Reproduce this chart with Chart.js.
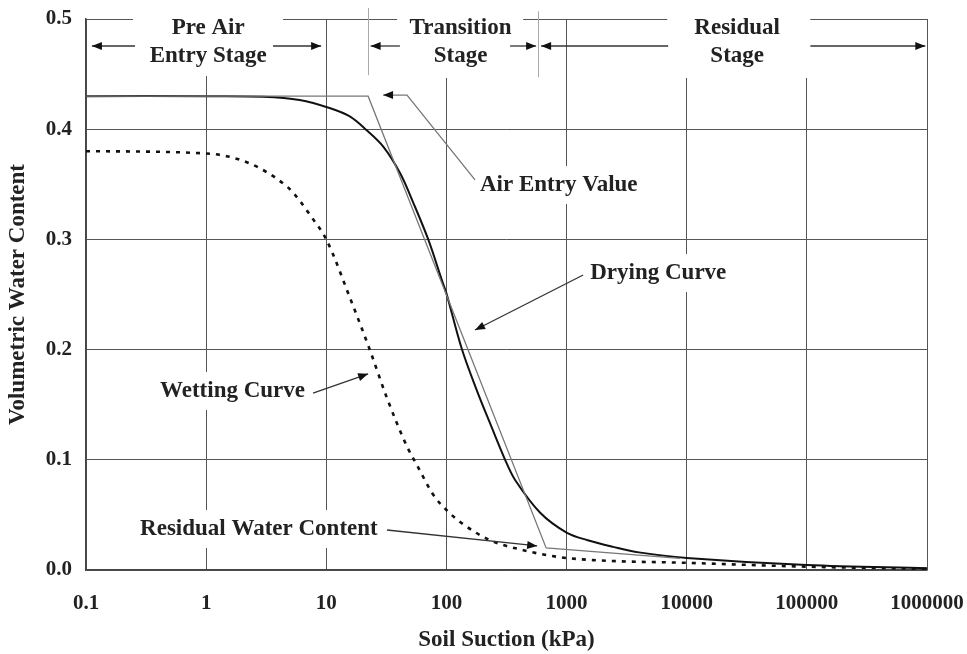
<!DOCTYPE html>
<html>
<head>
<meta charset="utf-8">
<script src="https://cdn.jsdelivr.net/npm/chart.js@4.4.1/dist/chart.umd.min.js"></script>
<style>
  html, body { margin: 0; padding: 0; background: #fff; }
  #wrap { width: 967px; height: 654px; }
</style>
</head>
<body>
<div id="wrap"><canvas id="swcc" width="967" height="654"></canvas></div>
<script>
// ---- data: suction (kPa) vs volumetric water content ----
const dryingSuction = [0.1, 1, 3, 6, 10.8, 15.8, 21.7, 29.9, 41.2, 53.1, 70.8, 91.6, 100, 134, 179, 231, 308, 373, 603, 1000, 1500, 2445, 4000, 10000, 100000, 1000000];
const dryingTheta   = [0.43, 0.43, 0.4295, 0.4265, 0.419, 0.4114, 0.399, 0.384, 0.360, 0.333, 0.2995, 0.263, 0.251, 0.201, 0.163, 0.133, 0.100, 0.0817, 0.052, 0.034, 0.027, 0.021, 0.016, 0.011, 0.0045, 0.0015];

const wettingSuction = [0.1, 1, 4.7, 7.8, 10, 16, 23, 32, 47, 57, 78, 101, 130, 231, 437, 830, 1660, 10000, 100000, 1000000];
const wettingTheta   = [0.38, 0.378, 0.348, 0.318, 0.30, 0.245, 0.20, 0.156, 0.112, 0.095, 0.068, 0.054, 0.0436, 0.027, 0.018, 0.012, 0.009, 0.0065, 0.003, 0.001];

// air entry / residual construction lines
const aevSuction = [0.1, 22.3, 676, 8800];
const aevTheta   = [0.43, 0.43, 0.020, 0.0105];

const xTicks = [0.1, 1, 10, 100, 1000, 10000, 100000, 1000000];
const xTickLabels = ['0.1', '1', '10', '100', '1000', '10000', '100000', '1000000'];
const yTicks = [0, 0.1, 0.2, 0.3, 0.4, 0.5];

const FONT = "'Liberation Serif', 'Times New Roman', serif";
const INK = '#222';
const NOTE_FONT = 'bold 23px ' + FONT;

const toPoints = (xs, ys) => xs.map((v, i) => ({ x: v, y: ys[i] }));

// ---- annotations (in data units) ----
const stages = [
  { lines: ['Pre Air', 'Entry Stage'], at: 1.04, gap: [0.246, 4.37], band: [0.108, 9.2, 0.4483],
    arrows: [[0.256, 0.112], [3.6, 9.06]] },
  { lines: ['Transition', 'Stage'], at: 131, gap: [38.9, 435], band: [24.1, 558, 0.4465],
    arrows: [[41, 23.4], [339, 558]] },
  { lines: ['Residual', 'Stage'], at: 26300, gap: [6880, 106700], band: [1050, 949000, 0.4465],
    arrows: [[7010, 614], [107000, 968000]] }
];
const stageDividers = [[22.3, 0.51, 0.449], [581, 0.507, 0.447]];

const labels = [
  { text: 'Air Entry Value', x: 190, y: 0.3494 },
  { text: 'Drying Curve', x: 1574, y: 0.2695 },
  { text: 'Wetting Curve', x: 0.413, y: 0.1624 },
  { text: 'Residual Water Content', x: 0.2818, y: 0.0372 }
];
const leaders = [
  { pts: [[173, 0.354], [47, 0.431], [29.7, 0.431]], color: '#777' },
  { pts: [[1374, 0.2677], [173, 0.2178]], color: '#333' },
  { pts: [[7.76, 0.1606], [22.3, 0.178]], color: '#333' },
  { pts: [[32, 0.0363], [569, 0.0218]], color: '#333' }
];

function arrowHead(ctx, x0, y0, x1, y1) {
  const a = Math.atan2(y1 - y0, x1 - x0);
  const len = 10, w = 4;
  ctx.beginPath();
  ctx.moveTo(x1, y1);
  ctx.lineTo(x1 - len * Math.cos(a) + w * Math.sin(a), y1 - len * Math.sin(a) - w * Math.cos(a));
  ctx.lineTo(x1 - len * Math.cos(a) - w * Math.sin(a), y1 - len * Math.sin(a) + w * Math.cos(a));
  ctx.closePath();
  ctx.fill();
}

const annotate = {
  id: 'annotate',
  beforeDatasetsDraw(chart) {
    const { ctx, scales: { x, y } } = chart;
    const top = y.getPixelForValue(0.5);
    ctx.save();
    ctx.fillStyle = '#fff';
    // white bands behind the stage captions (break grid + top border)
    stages.forEach(s => {
      const gx0 = x.getPixelForValue(s.gap[0]), gx1 = x.getPixelForValue(s.gap[1]);
      ctx.fillRect(gx0, 0, gx1 - gx0, top + 2);
      const bx0 = x.getPixelForValue(s.band[0]), bx1 = x.getPixelForValue(s.band[1]);
      ctx.fillRect(bx0, top + 1, bx1 - bx0, y.getPixelForValue(s.band[2]) - top - 1);
    });
    // white boxes behind the curve labels
    ctx.font = NOTE_FONT;
    labels.forEach(l => {
      const px = x.getPixelForValue(l.x), py = y.getPixelForValue(l.y);
      const w = ctx.measureText(l.text).width;
      ctx.fillRect(px - 3, py - 19, w + 6, 38);
    });
    ctx.restore();
  },
  afterDatasetsDraw(chart) {
    const { ctx, scales: { x, y } } = chart;
    const P = (s, t) => [x.getPixelForValue(s), y.getPixelForValue(t)];
    ctx.save();

    // stage dividers
    ctx.strokeStyle = '#aaa';
    ctx.lineWidth = 1;
    stageDividers.forEach(d => {
      const [px, py0] = P(d[0], d[1]);
      const py1 = y.getPixelForValue(d[2]);
      ctx.beginPath();
      ctx.moveTo(Math.round(px) + 0.5, py0);
      ctx.lineTo(Math.round(px) + 0.5, py1);
      ctx.stroke();
    });

    // stage arrows and captions
    const ay = y.getPixelForValue(0.4755);
    ctx.lineWidth = 1.3;
    stages.forEach(s => {
      ctx.strokeStyle = '#333';
      ctx.fillStyle = '#111';
      s.arrows.forEach(a => {
        const x0 = x.getPixelForValue(a[0]), x1 = x.getPixelForValue(a[1]);
        ctx.beginPath();
        ctx.moveTo(x0, ay);
        ctx.lineTo(x1, ay);
        ctx.stroke();
        arrowHead(ctx, x0, ay, x1, ay);
      });
      ctx.fillStyle = INK;
      ctx.font = NOTE_FONT;
      ctx.textAlign = 'center';
      ctx.textBaseline = 'middle';
      const cx = x.getPixelForValue(s.at);
      ctx.fillText(s.lines[0], cx, y.getPixelForValue(0.4915));
      ctx.fillText(s.lines[1], cx, y.getPixelForValue(0.4665));
    });

    // leader lines with arrow heads
    leaders.forEach(l => {
      const pts = l.pts.map(p => P(p[0], p[1]));
      ctx.strokeStyle = l.color;
      ctx.lineWidth = 1.3;
      ctx.beginPath();
      pts.forEach((p, i) => (i ? ctx.lineTo(p[0], p[1]) : ctx.moveTo(p[0], p[1])));
      ctx.stroke();
      const n = pts.length;
      ctx.fillStyle = '#111';
      arrowHead(ctx, pts[n - 2][0], pts[n - 2][1], pts[n - 1][0], pts[n - 1][1]);
    });

    // curve labels
    ctx.fillStyle = INK;
    ctx.font = NOTE_FONT;
    ctx.textAlign = 'left';
    ctx.textBaseline = 'middle';
    labels.forEach(l => {
      const [px, py] = P(l.x, l.y);
      ctx.fillText(l.text, px, py);
    });
    ctx.restore();
  }
};

new Chart(document.getElementById('swcc'), {
  type: 'scatter',
  data: {
    datasets: [
      {
        label: 'AEV construction',
        data: toPoints(aevSuction, aevTheta),
        showLine: true, borderColor: '#777', borderWidth: 1.3,
        pointRadius: 0, tension: 0
      },
      {
        label: 'Wetting Curve',
        data: toPoints(wettingSuction, wettingTheta),
        showLine: true, borderColor: '#111', borderWidth: 2.6, borderDash: [4, 6],
        pointRadius: 0, cubicInterpolationMode: 'monotone'
      },
      {
        label: 'Drying Curve',
        data: toPoints(dryingSuction, dryingTheta),
        showLine: true, borderColor: '#111', borderWidth: 2,
        pointRadius: 0, tension: 0.35
      }
    ]
  },
  options: {
    responsive: false,
    animation: false,
    devicePixelRatio: 1,
    layout: { padding: { top: 19, right: 40, left: 0, bottom: 0 } },
    plugins: { legend: { display: false }, tooltip: { enabled: false } },
    scales: {
      x: {
        type: 'logarithmic',
        min: 0.1,
        max: 1000000,
        afterBuildTicks: s => { s.ticks = xTicks.map(v => ({ value: v })); },
        afterFit: s => { s.height = 84; s.paddingLeft = 0; s.paddingRight = 0; },
        grid: { color: '#555', lineWidth: 1, drawTicks: false },
        border: { color: '#444', width: 1.5 },
        ticks: {
          padding: 21,
          color: INK,
          font: { family: FONT, size: 21, weight: 'bold' },
          callback: v => xTickLabels[xTicks.indexOf(v)] ?? ''
        },
        title: {
          display: true,
          text: 'Soil Suction (kPa)',
          color: INK,
          font: { family: FONT, size: 23, weight: 'bold' },
          padding: { top: 0, bottom: 0 }
        }
      },
      y: {
        min: 0,
        max: 0.5,
        afterBuildTicks: s => { s.ticks = yTicks.map(v => ({ value: v })); },
        afterFit: s => { s.width = 86; s.paddingTop = 0; s.paddingBottom = 0; },
        grid: { color: '#555', lineWidth: 1, drawTicks: false },
        border: { color: '#444', width: 1.5 },
        ticks: {
          padding: 14,
          color: INK,
          font: { family: FONT, size: 21, weight: 'bold' },
          callback: v => v.toFixed(1)
        },
        title: {
          display: true,
          text: 'Volumetric Water Content',
          color: INK,
          font: { family: FONT, size: 23, weight: 'bold' },
          padding: { top: 4, bottom: 0 }
        }
      }
    }
  },
  plugins: [annotate]
});
</script>
</body>
</html>
